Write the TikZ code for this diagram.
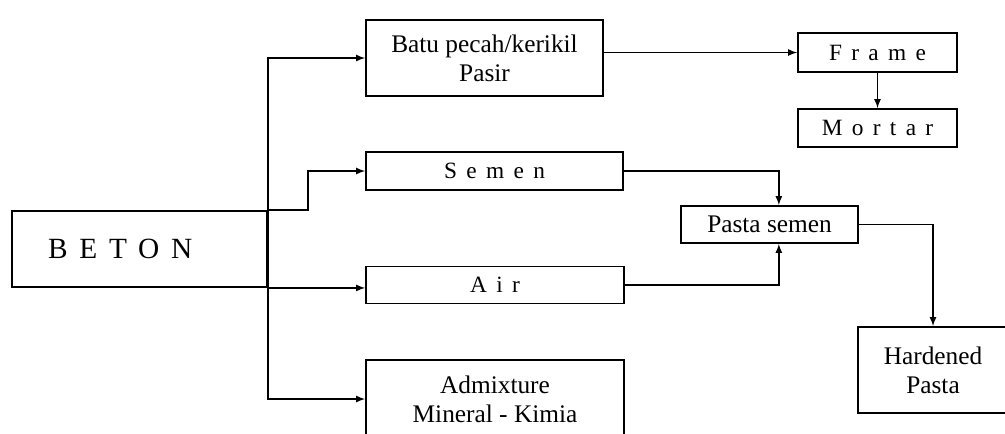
\documentclass[tikz,border=0pt]{standalone}
\usepackage{fontspec}
\setmainfont{Liberation Serif}
\newfontfamily\spacedfont[LetterSpace=40]{Liberation Serif}
\usetikzlibrary{arrows}
\tikzstyle{block}=[draw,line width=1.4pt,inner sep=0pt,align=center,font=\fontsize{19}{22}\selectfont]
\tikzstyle{spaced}=[font=\fontsize{17.5}{20}\spacedfont]
\tikzstyle{edge} = [draw,line width=1.3pt,-latex]

\begin{document}
\begin{tikzpicture}[x=0.75pt,y=-0.75pt]
	\useasboundingbox (0,0) rectangle (1005,433);
	
	\node[block,minimum width=191.25pt,minimum height=57pt,text width=137pt,align=left,font=\fontsize{22}{26}\spacedfont] (beton) at (139.5,249) {BETON};
	\node[block,minimum width=177.75pt,minimum height=57pt] (batu) at (484.5,58) {Batu pecah/kerikil\\Pasir};
	\node[block,spaced,minimum width=192.75pt,minimum height=28.5pt] (semen) at (494.5,171) {Semen};
	\node[block,spaced,minimum width=193.5pt,minimum height=27.75pt] (air) at (495,285) {Air};
	\node[block,minimum width=193.5pt,minimum height=58.5pt] (admix) at (495,399) {Admixture\\Mineral - Kimia};
	\node[block,spaced,minimum width=119.25pt,minimum height=29.25pt] (frame) at (877.5,52.5) {Frame};
	\node[block,spaced,minimum width=119.25pt,minimum height=28.5pt] (mortar) at (877.5,128) {Mortar};
	\node[block,minimum width=132.75pt,minimum height=27.75pt] (pasta) at (769.5,224.5) {Pasta semen};
	\node[block,minimum width=112.5pt,minimum height=64.5pt] (hardened) at (933,370) {Hardened\\Pasta};
	
	\path[edge] (beton.south east) |- (batu.west);
	\path[edge] (beton.north east) |- (admix.west);
	\path[edge] (beton.north east) -- ++(40,0) |- (semen.west);
	\path[edge] (beton.south east) -- (beton.south east -| air.west);
	\path[edge] (batu.east |- frame.west) -- (frame.west);
	\path[edge] (frame.south) -- (mortar.north);
	\path[edge] (semen.east) -| ([xshift=7pt]pasta.north);
	\path[edge] (air.east) -| ([xshift=7pt]pasta.south);
	\path[edge] (pasta.east) -| (hardened.north);
\end{tikzpicture}
\end{document}
